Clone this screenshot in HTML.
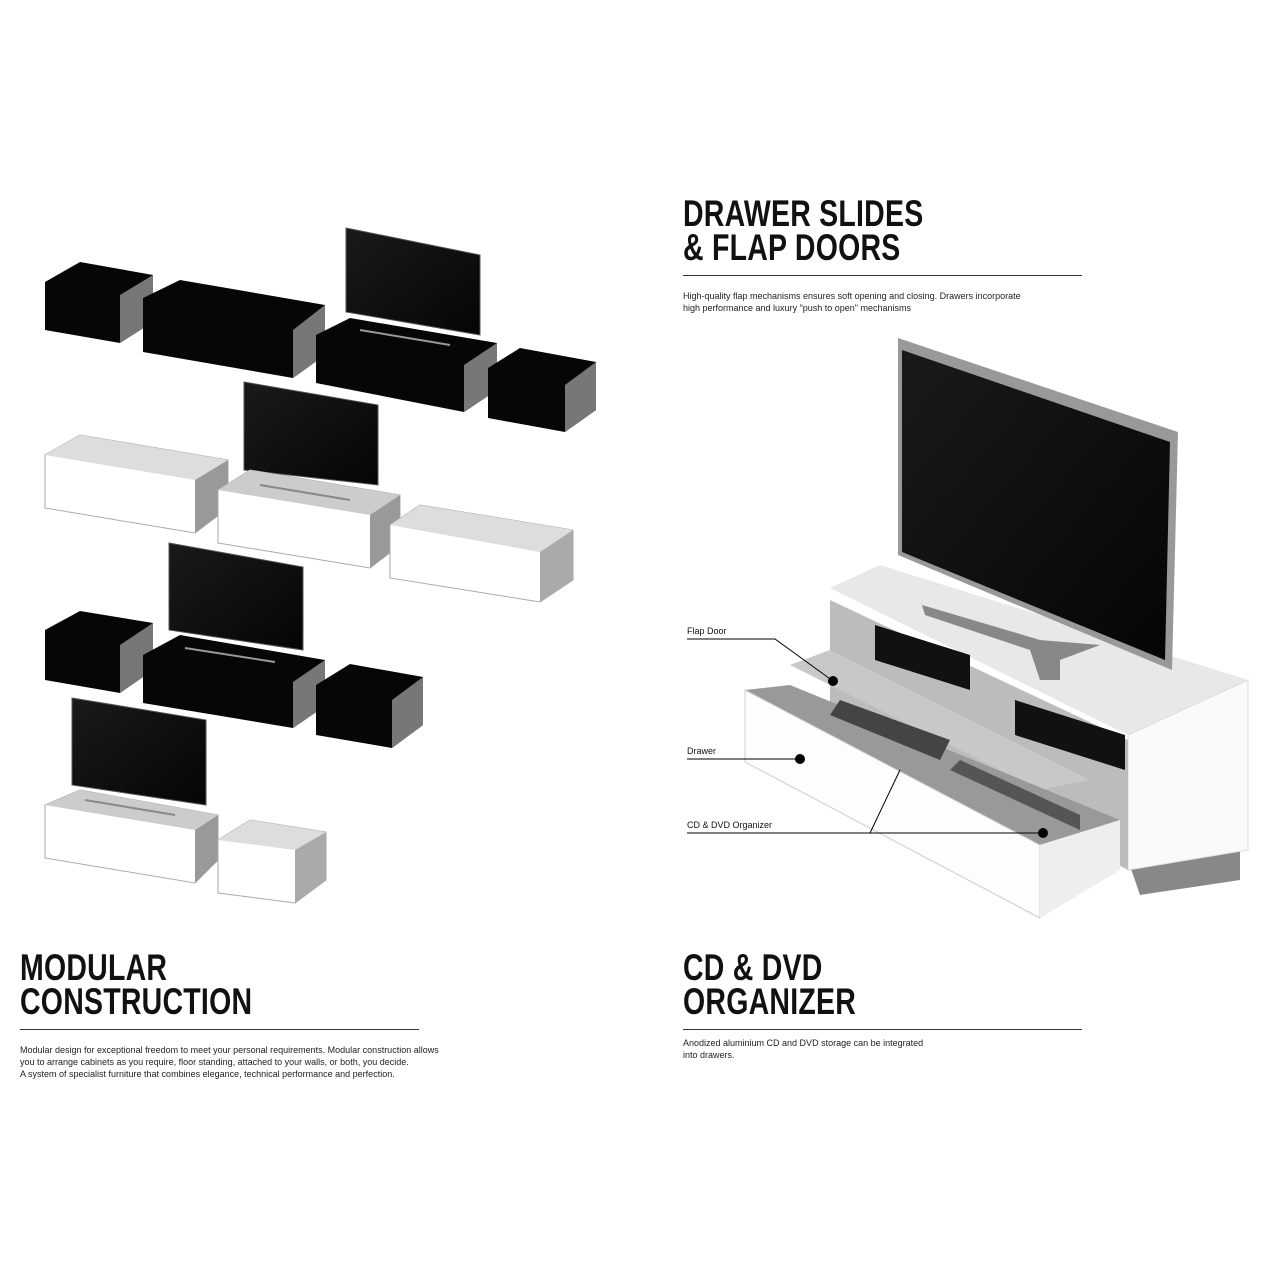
<!DOCTYPE html>
<html><head><meta charset="utf-8"><style>
html,body{margin:0;padding:0;background:#fff;}
body{width:1275px;height:1275px;position:relative;overflow:hidden;font-family:"Liberation Sans",sans-serif;}
.h{position:absolute;font-weight:bold;font-size:37px;line-height:34px;color:#111;letter-spacing:0.3px;transform:scaleX(0.77);transform-origin:0 0;white-space:nowrap;}
.t{position:absolute;font-size:9px;line-height:12px;color:#222;}
.rule{position:absolute;height:1px;background:#333;}
.lbl{position:absolute;font-size:9px;color:#111;}
</style></head><body>
<svg width="1275" height="1275" style="position:absolute;left:0;top:0">
<defs>
<linearGradient id="scr" x1="0" y1="0" x2="1" y2="1"><stop offset="0" stop-color="#1a1a1a"/><stop offset="1" stop-color="#050505"/></linearGradient>
</defs>
<polygon points="45,282 80,262 153,275 153,322 120,343 45,330" fill="#060606"/>
<polygon points="120,295 153,275 153,322 120,343" fill="#777"/>
<polygon points="143,298 180,280 325,305 325,355 293,378 143,352" fill="#060606"/>
<polygon points="293,330 325,305 325,355 293,378" fill="#777"/>
<polygon points="346,228 480,255 480,335 346,312" fill="url(#scr)" stroke="#555"/>
<polygon points="316,335 350,318 497,343 497,390 464,412 316,383" fill="#060606"/>
<polygon points="464,365 497,343 497,390 464,412" fill="#777"/>
<line x1="360" y1="330" x2="450" y2="345" stroke="#999" stroke-width="2"/>
<polygon points="488,368 520,348 596,362 596,410 565,432 488,418" fill="#060606"/>
<polygon points="565,385 596,362 596,410 565,432" fill="#777"/>
<polygon points="45,455 80,435 228,460 228,508 195,533 45,508" fill="#fff" stroke="#aaa"/>
<polygon points="45,455 80,435 228,460 195,480" fill="#ddd"/>
<polygon points="195,480 228,460 228,508 195,533" fill="#999"/>
<polygon points="244,382 378,405 378,485 244,470" fill="url(#scr)" stroke="#555"/>
<polygon points="218,490 250,470 400,495 400,545 370,568 218,543" fill="#fff" stroke="#aaa"/>
<polygon points="218,490 250,470 400,495 370,515" fill="#ccc"/>
<polygon points="370,515 400,495 400,545 370,568" fill="#999"/>
<line x1="260" y1="485" x2="350" y2="500" stroke="#888" stroke-width="2"/>
<polygon points="390,525 420,505 573,530 573,580 540,602 390,578" fill="#fff" stroke="#aaa"/>
<polygon points="390,525 420,505 573,530 540,552" fill="#ddd"/>
<polygon points="540,552 573,530 573,580 540,602" fill="#aaa"/>
<polygon points="45,630 80,611 153,623 153,670 120,693 45,680" fill="#060606"/>
<polygon points="120,645 153,623 153,670 120,693" fill="#777"/>
<polygon points="169,543 303,567 303,650 169,630" fill="url(#scr)" stroke="#555"/>
<polygon points="143,655 180,635 325,660 325,706 293,728 143,703" fill="#060606"/>
<polygon points="293,682 325,660 325,706 293,728" fill="#777"/>
<line x1="185" y1="648" x2="275" y2="662" stroke="#999" stroke-width="2"/>
<polygon points="316,685 350,664 423,677 423,725 392,748 316,735" fill="#060606"/>
<polygon points="392,700 423,677 423,725 392,748" fill="#777"/>
<polygon points="72,698 206,720 206,805 72,785" fill="url(#scr)" stroke="#555"/>
<polygon points="45,805 80,790 218,815 218,860 195,883 45,858" fill="#fff" stroke="#aaa"/>
<polygon points="45,805 80,790 218,815 195,830" fill="#ccc"/>
<polygon points="195,830 218,815 218,860 195,883" fill="#999"/>
<line x1="85" y1="800" x2="175" y2="815" stroke="#888" stroke-width="2"/>
<polygon points="218,840 250,820 326,832 326,880 295,903 218,893" fill="#fff" stroke="#aaa"/>
<polygon points="218,840 250,820 326,832 295,850" fill="#ddd"/>
<polygon points="295,850 326,832 326,880 295,903" fill="#aaa"/>
<polygon points="1128,860 1240,820 1240,880 1140,895" fill="#888"/>
<polygon points="830,588 880,565 1248,680 1128,735" fill="#e8e8e8"/>
<polygon points="1128,735 1248,680 1248,850 1128,870" fill="#fafafa" stroke="#ddd"/>
<polygon points="830,600 1128,740 1128,870 830,710" fill="#bcbcbc"/>
<polygon points="875,625 970,655 970,690 875,660" fill="#111"/>
<polygon points="1015,700 1125,735 1125,770 1015,735" fill="#111"/>
<polygon points="790,665 830,650 1090,780 1040,790" fill="#c8c8c8"/>
<polygon points="745,690 790,685 1120,820 1040,845" fill="#999"/>
<polygon points="745,690 1040,845 1040,918 745,762" fill="#fdfdfd" stroke="#ccc"/>
<polygon points="1040,845 1120,820 1120,870 1040,918" fill="#eee"/>
<polygon points="830,715 940,760 950,740 840,700" fill="#444"/>
<polygon points="950,770 1080,830 1080,815 960,760" fill="#555"/>
<polygon points="922,605 1040,640 1100,645 1060,660 1060,680 1040,680 1030,650 925,615" fill="#888"/>
<polygon points="898,338 1178,432 1172,670 898,555" fill="#999"/>
<polygon points="902,350 1170,442 1165,660 902,552" fill="url(#scr)"/>
<polyline points="687,639 775,639 833,681" fill="none" stroke="#000" stroke-width="1"/>
<circle cx="833" cy="681" r="5" fill="#000"/>
<polyline points="687,759 800,759" fill="none" stroke="#000"/>
<circle cx="800" cy="759" r="5" fill="#000"/>
<polyline points="687,833 1043,833" fill="none" stroke="#000"/>
<line x1="870" y1="833" x2="900" y2="770" stroke="#000"/>
<circle cx="1043" cy="833" r="5" fill="#000"/>
</svg>

<div class="h" style="left:683px;top:197px">DRAWER SLIDES<br>&amp; FLAP DOORS</div>
<div class="rule" style="left:683px;top:275px;width:399px"></div>
<div class="t" style="left:683px;top:290px">High-quality flap mechanisms ensures soft opening and closing. Drawers incorporate<br>high performance and luxury "push to open" mechanisms</div>

<div class="lbl" style="left:687px;top:626px">Flap Door</div>
<div class="lbl" style="left:687px;top:746px">Drawer</div>
<div class="lbl" style="left:687px;top:820px">CD &amp; DVD Organizer</div>

<div class="h" style="left:20px;top:951px">MODULAR<br>CONSTRUCTION</div>
<div class="rule" style="left:20px;top:1029px;width:399px"></div>
<div class="t" style="left:20px;top:1044px">Modular design for exceptional freedom to meet your personal requirements. Modular construction allows<br>you to arrange cabinets as you require, floor standing, attached to your walls, or both, you decide.<br>A system of specialist furniture that combines elegance, technical performance and perfection.</div>

<div class="h" style="left:683px;top:951px">CD &amp; DVD<br>ORGANIZER</div>
<div class="rule" style="left:683px;top:1029px;width:399px"></div>
<div class="t" style="left:683px;top:1037px">Anodized aluminium CD and DVD storage can be integrated<br>into drawers.</div>
</body></html>
